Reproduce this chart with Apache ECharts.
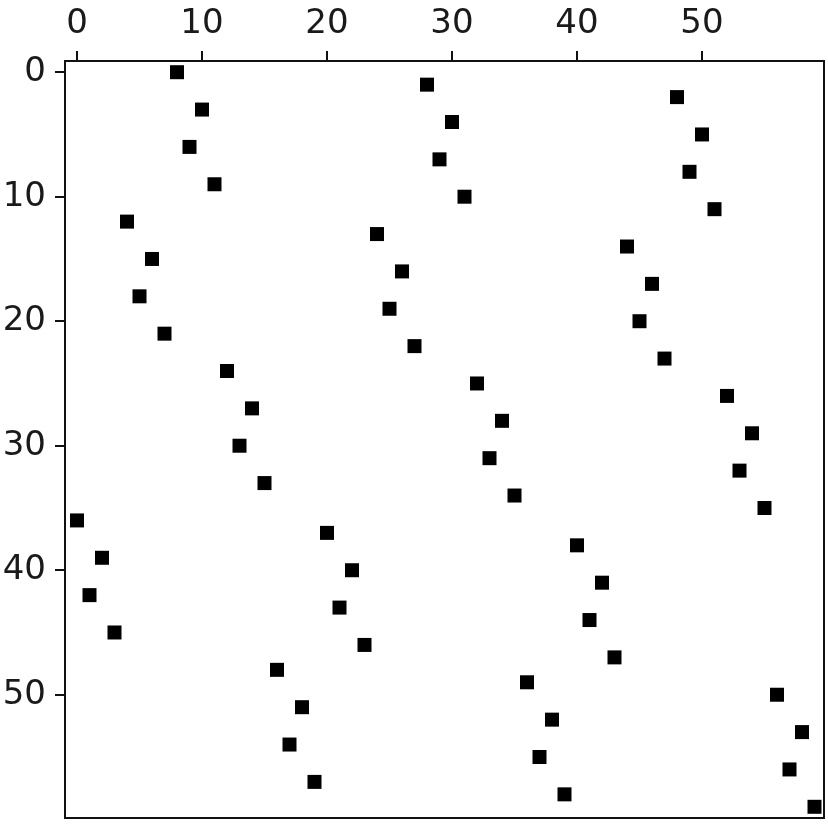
<!DOCTYPE html>
<html>
<head>
<meta charset="utf-8">
<script src="https://cdn.jsdelivr.net/npm/echarts@6/dist/echarts.min.js"></script>
<style>html,body{margin:0;padding:0;background:#fff}#c{width:828px;height:826px}</style>
</head>
<body>
<div id="c"></div>
<script>
// Row index -> column index of the nonzero entry (permutation matrix spy plot)
const rows = [0,1,2,3,4,5,6,7,8,9,10,11,12,13,14,15,16,17,18,19,20,21,22,23,24,25,26,27,28,29,30,31,32,33,34,35,36,37,38,39,40,41,42,43,44,45,46,47,48,49,50,51,52,53,54,55,56,57,58,59];
const cols = [8,28,48,10,30,50,9,29,49,11,31,51,4,24,44,6,26,46,5,25,45,7,27,47,12,32,52,14,34,54,13,33,53,15,35,55,0,20,40,2,22,42,1,21,41,3,23,43,16,36,56,18,38,58,17,37,57,19,39,59];
const tickValues = [0,10,20,30,40,50];

const points = rows.map((r, i) => [cols[i], r]);
const chart = echarts.init(document.getElementById('c'));
const font = 'DejaVu Sans';
chart.setOption({
  backgroundColor: '#ffffff',
  animation: false,
  grid: {left: 65, top: 61, width: 759, height: 757, containLabel: false, outerBoundsMode: 'none',
         show: true, borderColor: '#111', borderWidth: 2, backgroundColor: '#fff'},
  xAxis: {
    type: 'value', position: 'top', min: -0.96, max: 59.76,
    axisLine: {show: true, onZero: false, lineStyle: {color: '#111', width: 2}},
    axisTick: {show: true, inside: false, length: 10, lineStyle: {color: '#111', width: 2}, customValues: tickValues},
    axisLabel: {show: true, fontSize: 34, fontFamily: font, color: '#1a1a1a', margin: 20, customValues: tickValues},
    splitLine: {show: false}
  },
  yAxis: {
    type: 'value', inverse: true, min: -0.9, max: 59.9,
    axisLine: {show: true, onZero: false, lineStyle: {color: '#111', width: 2}},
    axisTick: {show: true, inside: false, length: 10, lineStyle: {color: '#111', width: 2}, customValues: tickValues},
    axisLabel: {show: true, fontSize: 34, fontFamily: font, color: '#1a1a1a', margin: 19, customValues: tickValues},
    splitLine: {show: false}
  },
  series: [{
    type: 'scatter', data: points, symbol: 'rect', symbolSize: 14,
    itemStyle: {color: '#000', opacity: 1}
  }]
});
</script>
</body>
</html>
